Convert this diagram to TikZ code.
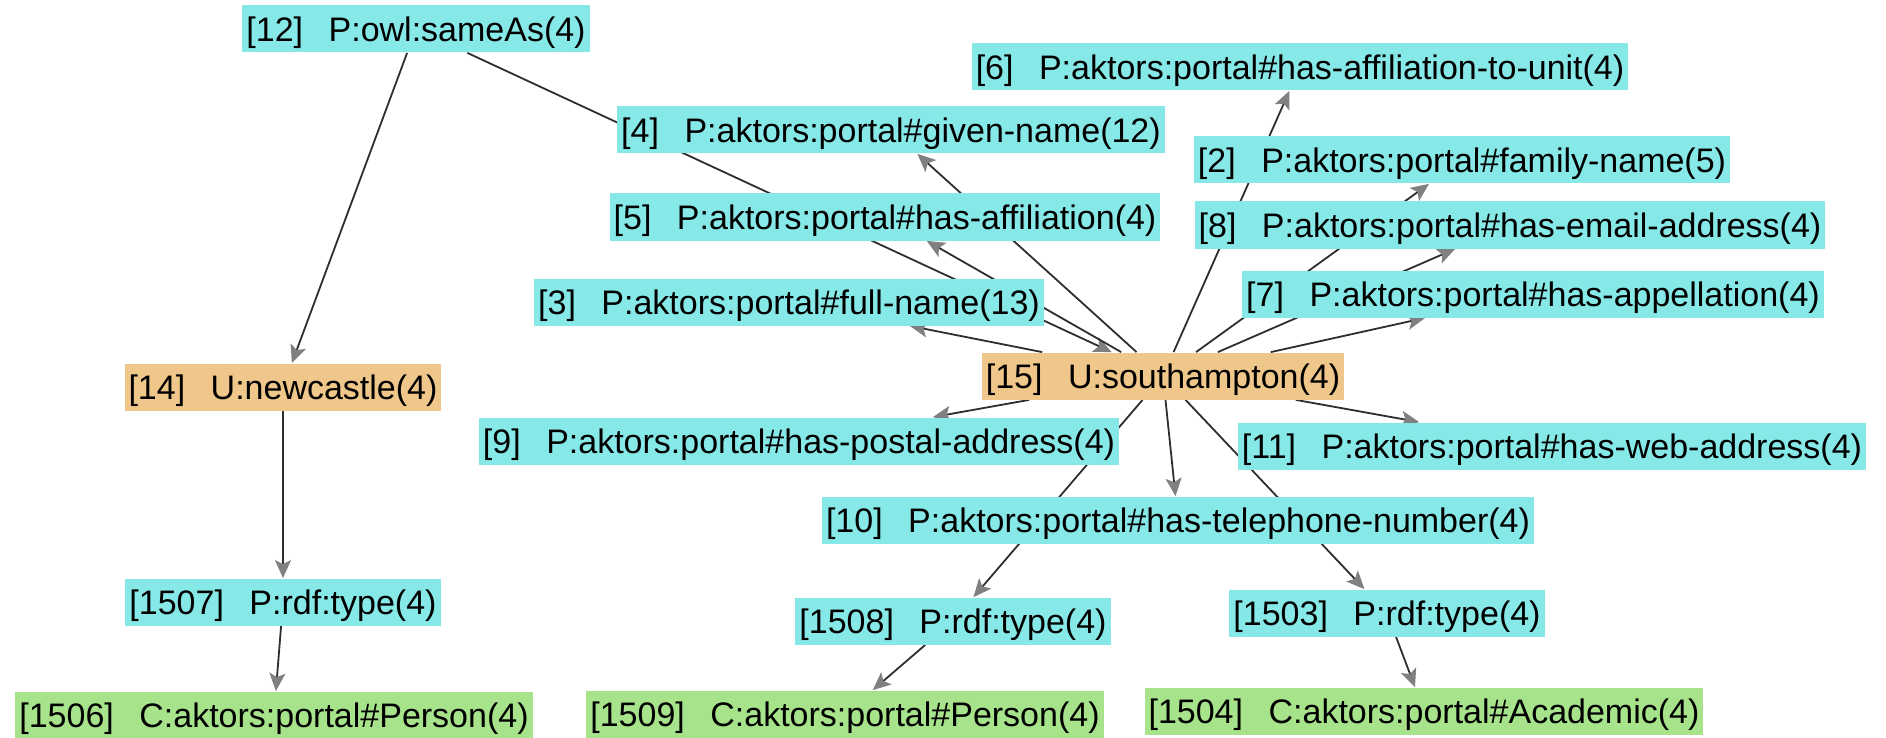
\documentclass[tikz,border=0pt]{standalone}
\usepackage{fontspec}
\setmainfont{Liberation Sans}
\usetikzlibrary{arrows.meta,backgrounds}
\definecolor{PropClr}{rgb}{0.53,0.91,0.91}
\definecolor{UriClr}{rgb}{0.94,0.78,0.54}
\definecolor{ClassClr}{rgb}{0.65,0.89,0.54}
\definecolor{EdgeClr}{rgb}{0.18,0.18,0.18}
\definecolor{TipClr}{rgb}{0.5,0.5,0.5}
\newcommand{\nlbl}[2]{[#1]\hspace{0.75em}#2}

\begin{document}
\begin{tikzpicture}[x=0.5pt,y=-0.5pt,
  box/.style={inner xsep=2pt,inner ysep=0pt,text height=18pt,text depth=5.5pt,font=\fontsize{17}{20}\selectfont},
  prop/.style={box,fill=PropClr},
  uri/.style={box,fill=UriClr},
  cls/.style={box,fill=ClassClr},
  link/.style={draw=EdgeClr,line width=0.9pt,-{Stealth[length=9pt,width=8pt,inset=2pt,color=TipClr]}}]
\useasboundingbox (0,0) rectangle (1886,738);

\node[prop] (n12) at (416,29) {\nlbl{12}{P:owl:sameAs(4)}};
\node[prop] (n6) at (1300,67) {\nlbl{6}{P:aktors:portal\#has-affiliation-to-unit(4)}};
\node[prop] (n4) at (891,130) {\nlbl{4}{P:aktors:portal\#given-name(12)}};
\node[prop] (n2) at (1462,160) {\nlbl{2}{P:aktors:portal\#family-name(5)}};
\node[prop] (n5) at (885,217) {\nlbl{5}{P:aktors:portal\#has-affiliation(4)}};
\node[prop] (n8) at (1510,225) {\nlbl{8}{P:aktors:portal\#has-email-address(4)}};
\node[prop] (n3) at (789,302) {\nlbl{3}{P:aktors:portal\#full-name(13)}};
\node[prop] (n7) at (1533,294) {\nlbl{7}{P:aktors:portal\#has-appellation(4)}};
\node[uri] (n14) at (283,387) {\nlbl{14}{U:newcastle(4)}};
\node[uri] (n15) at (1163,376) {\nlbl{15}{U:southampton(4)}};
\node[prop] (n9) at (799,441) {\nlbl{9}{P:aktors:portal\#has-postal-address(4)}};
\node[prop] (n11) at (1552,446) {\nlbl{11}{P:aktors:portal\#has-web-address(4)}};
\node[prop] (n10) at (1178,520) {\nlbl{10}{P:aktors:portal\#has-telephone-number(4)}};
\node[prop] (n1507) at (283,602) {\nlbl{1507}{P:rdf:type(4)}};
\node[prop] (n1508) at (953,621) {\nlbl{1508}{P:rdf:type(4)}};
\node[prop] (n1503) at (1387,613) {\nlbl{1503}{P:rdf:type(4)}};
\node[cls] (n1506) at (274,715) {\nlbl{1506}{C:aktors:portal\#Person(4)}};
\node[cls] (n1509) at (845,714) {\nlbl{1509}{C:aktors:portal\#Person(4)}};
\node[cls] (n1504) at (1424,711) {\nlbl{1504}{C:aktors:portal\#Academic(4)}};

\begin{scope}[on background layer]
\draw[link] (n12) -- (n14);
\draw[link] (n12) -- (n15);
\draw[link] (n14) -- (n1507);
\draw[link] (n1507) -- (n1506);
\foreach \dst in {n6,n4,n2,n5,n8,n3,n7,n9,n11,n10,n1508,n1503}
  \draw[link] (n15) -- (\dst);
\draw[link] (n1508) -- (n1509);
\draw[link] (n1503) -- (n1504);
\end{scope}
\end{tikzpicture}
\end{document}
